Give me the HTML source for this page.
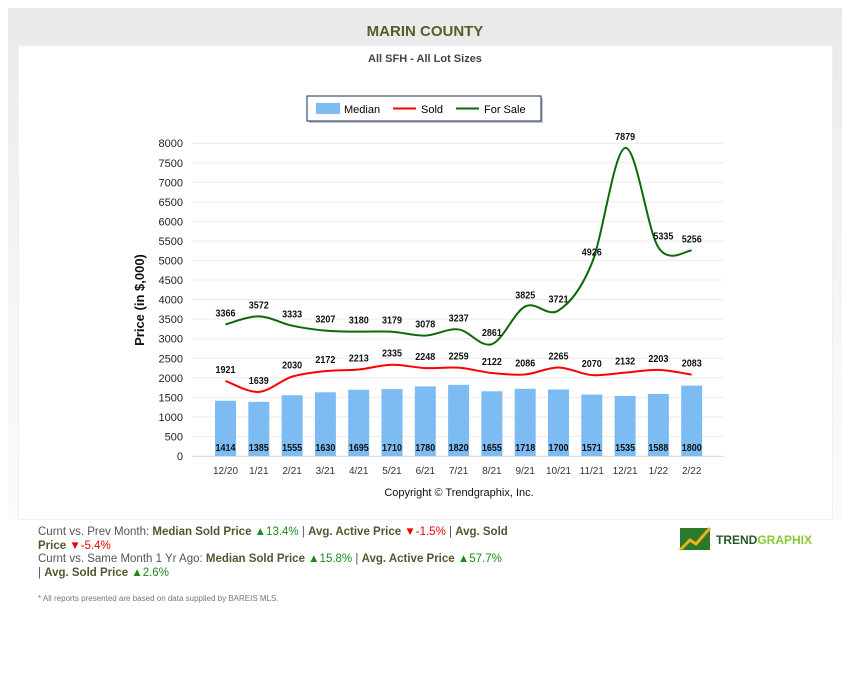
<!DOCTYPE html>
<html><head><meta charset="utf-8"><style>
body{margin:0;width:850px;height:700px;background:#fff;font-family:"Liberation Sans",sans-serif;position:relative;overflow:hidden}
.gray{position:absolute;left:8px;top:8px;width:834px;height:512px;background:linear-gradient(#e9e9e9,#ececec 10%,#f6f6f6 60%,#fbfbfb)}
.white{position:absolute;left:18px;top:45px;width:813px;height:473px;background:#fff;border:1px solid #f0f0f0}
.t1{position:absolute;left:0;width:850px;top:23px;text-align:center;font-weight:bold;font-size:15px;color:#5a5a2a}
.t2{position:absolute;left:0;width:850px;top:53px;text-align:center;font-weight:bold;font-size:11px;color:#444}
.info{position:absolute;left:38px;top:526px;width:540px;font-size:11.5px;line-height:13.5px;color:#555;white-space:nowrap}
.info b{color:#555530}
.g{color:#1a8a1a}.r{color:#e00}
.foot{position:absolute;left:38px;top:594px;font-size:8px;color:#777}
</style></head><body>
<div class="gray"></div><div class="white"></div>
<div class="t1">MARIN COUNTY</div>
<div class="t2">All SFH - All Lot Sizes</div>
<svg id="c" width="850" height="700" style="position:absolute;left:0;top:0" font-family="Liberation Sans, sans-serif"></svg>
<div class="info">Curnt vs. Prev Month: <b>Median Sold Price</b> <span class="g">▲13.4%</span> | <b>Avg. Active Price</b> <span class="r">▼-1.5%</span> | <b>Avg. Sold</b><br><b>Price</b> <span class="r">▼-5.4%</span><br>Curnt vs. Same Month 1 Yr Ago: <b>Median Sold Price</b> <span class="g">▲15.8%</span> | <b>Avg. Active Price</b> <span class="g">▲57.7%</span><br>| <b>Avg. Sold Price</b> <span class="g">▲2.6%</span></div>
<div class="foot">* All reports presented are based on data supplied by BAREIS MLS.</div>
<svg width="140" height="30" style="position:absolute;left:678px;top:524px">
<rect x="2" y="4" width="30" height="22" fill="#2a7a2a"/><path d="M2 26 L12 16 L18 20 L32 4" stroke="#f0b020" stroke-width="3" fill="none"/>
<text x="38" y="20" font-family="Liberation Sans,sans-serif" font-weight="bold" font-size="12" fill="#2a5a2a">TREND<tspan fill="#8ac83a">GRAPHIX</tspan></text></svg>
<script>
var s=document.getElementById('c'),h='';
var med=[1414,1385,1555,1630,1695,1710,1780,1820,1655,1718,1700,1571,1535,1588,1800];
var sold=[1921,1639,2030,2172,2213,2335,2248,2259,2122,2086,2265,2070,2132,2203,2083];
var fs=[3366,3572,3333,3207,3180,3179,3078,3237,2861,3825,3721,4926,7879,5335,5256];
var lab=['12/20','1/21','2/21','3/21','4/21','5/21','6/21','7/21','8/21','9/21','10/21','11/21','12/21','1/22','2/22'];
function Y(v){return 456-v*0.0391}
function X(i){return 225.5+i*33.3}
for(var k=0;k<=16;k++){var y=Y(k*500);h+='<line x1="192" x2="724" y1="'+y+'" y2="'+y+'" stroke="#ececec"/>';h+='<text x="183" y="'+(y+4)+'" text-anchor="end" font-size="11" fill="#222">'+(k*500)+'</text>'}
h+='<line x1="192" x2="724" y1="456.5" y2="456.5" stroke="#ddd"/>';
h+='<text transform="translate(144,300) rotate(-90)" text-anchor="middle" font-size="13" font-weight="bold" fill="#111">Price (in $,000)</text>';
for(var i=0;i<15;i++){var x=X(i);h+='<rect x="'+(x-10.5)+'" y="'+Y(med[i])+'" width="21" height="'+(456-Y(med[i]))+'" fill="#7dbcf2"/>';
h+='<text x="'+x+'" y="451" text-anchor="middle" font-size="10.5" font-weight="bold" fill="#111" textLength="20" lengthAdjust="spacingAndGlyphs">'+med[i]+'</text>';
h+='<text x="'+x+'" y="474" text-anchor="middle" font-size="10" fill="#333">'+lab[i]+'</text>';}
function path(d){var p=d.map(function(v,i){return[X(i),Y(v)]});var str='M'+p[0];for(var i=0;i<p.length-1;i++){var a=p[i-1]||p[i],b=p[i],c=p[i+1],e=p[i+2]||c;str+=' C'+(b[0]+(c[0]-a[0])/6)+','+(b[1]+(c[1]-a[1])/6)+' '+(c[0]-(e[0]-b[0])/6)+','+(c[1]-(e[1]-b[1])/6)+' '+c[0]+','+c[1]}return str}
h+='<path d="'+path(sold)+'" stroke="#f00" stroke-width="2" fill="none"/>';
h+='<path d="'+path(fs)+'" stroke="#0a6a0a" stroke-width="2" fill="none"/>';
for(var i=0;i<15;i++){h+='<text x="'+X(i)+'" y="'+(Y(sold[i])-8)+'" text-anchor="middle" font-size="10.5" font-weight="bold" fill="#111" textLength="20" lengthAdjust="spacingAndGlyphs">'+sold[i]+'</text>';
h+='<text x="'+(X(i)+(i==13?5:0))+'" y="'+(Y(fs[i])-8)+'" text-anchor="middle" font-size="10.5" font-weight="bold" fill="#111" textLength="20" lengthAdjust="spacingAndGlyphs">'+fs[i]+'</text>';}
h+='<text x="459" y="496" text-anchor="middle" font-size="11" fill="#111">Copyright © Trendgraphix, Inc.</text>';
h+='<rect x="309" y="98" width="234" height="25" fill="#888" opacity=".5"/><rect x="307" y="96" width="234" height="25" fill="#fff" stroke="#1a2a6a"/>';
h+='<rect x="316" y="103" width="24" height="11" fill="#7dbcf2"/><text x="344" y="113" font-size="11">Median</text>';
h+='<line x1="393" x2="416" y1="108.5" y2="108.5" stroke="#f00" stroke-width="2"/><text x="421" y="113" font-size="11">Sold</text>';
h+='<line x1="456" x2="479" y1="108.5" y2="108.5" stroke="#0a6a0a" stroke-width="2"/><text x="484" y="113" font-size="11">For Sale</text>';
s.innerHTML=h;
</script>
</body></html>
